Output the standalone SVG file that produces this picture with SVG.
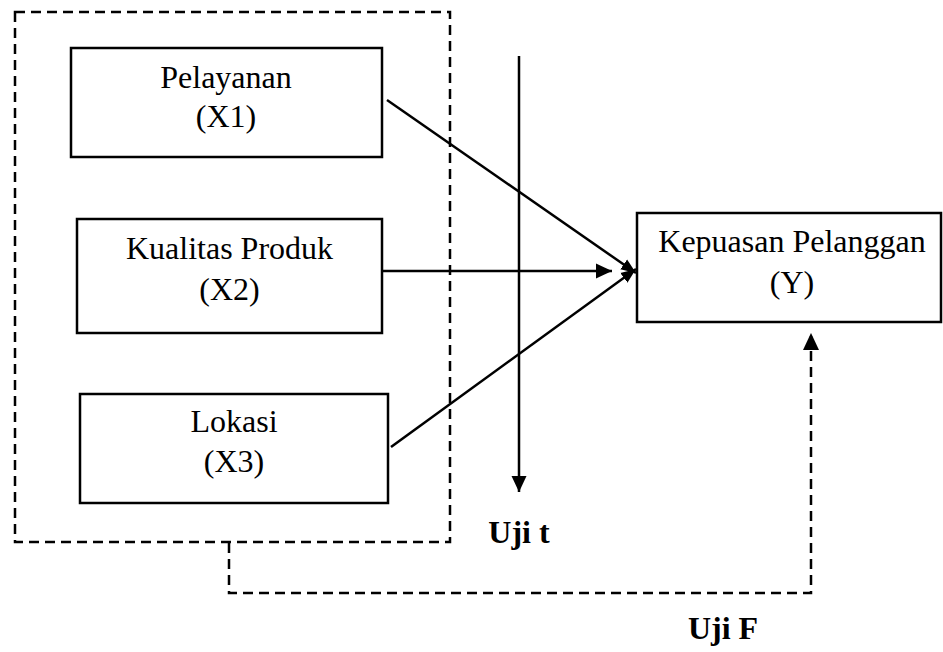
<svg xmlns="http://www.w3.org/2000/svg" width="943" height="652" viewBox="0 0 943 652">
<style>
.box{fill:#fff;stroke:#000;stroke-width:2.5}
.lbl{font-family:"Liberation Serif","Times New Roman",serif;font-size:32px;fill:#000;text-anchor:middle}
.bold{font-weight:bold}
.ln{stroke:#000;stroke-width:2.5;fill:none}
.dash{stroke:#000;stroke-width:2.5;fill:none;stroke-dasharray:10 6}
</style>
<defs>
<marker id="ah" markerUnits="userSpaceOnUse" markerWidth="18" markerHeight="18" viewBox="0 0 18 18" refX="16" refY="9" orient="auto">
<path d="M0,1.5 L16,9 L0,16.5 Z" fill="#000"/>
</marker>
<marker id="ahs" markerUnits="userSpaceOnUse" markerWidth="16" markerHeight="16" viewBox="0 0 16 16" refX="15" refY="8" orient="auto">
<path d="M0,2 L15,8 L0,14 Z" fill="#000"/>
</marker>
</defs>
<rect id="group-x" x="15" y="12" width="435" height="530" fill="none" stroke="#000" stroke-width="2.5" stroke-dasharray="10 6"/>
<g id="x1">
<rect class="box" x="71" y="48" width="311" height="109"/>
<text class="lbl" x="226" y="88">Pelayanan</text>
<text class="lbl" x="226" y="127">(X1)</text>
</g>
<g id="x2">
<rect class="box" x="77" y="219" width="305" height="114"/>
<text class="lbl" x="229.5" y="259">Kualitas Produk</text>
<text class="lbl" x="229.5" y="300">(X2)</text>
</g>
<g id="x3">
<rect class="box" x="80" y="394" width="308" height="109"/>
<text class="lbl" x="234" y="432">Lokasi</text>
<text class="lbl" x="234" y="472">(X3)</text>
</g>
<g id="y">
<rect class="box" x="637" y="213" width="304" height="109"/>
<text class="lbl" x="792" y="252">Kepuasan Pelanggan</text>
<text class="lbl" x="792" y="293">(Y)</text>
</g>
<g id="connectors">
<line class="ln" x1="387" y1="100" x2="636" y2="273" marker-end="url(#ahs)"/>
<line class="ln" x1="382" y1="271" x2="612" y2="271" marker-end="url(#ah)"/>
<line class="ln" x1="391" y1="447" x2="636" y2="269" marker-end="url(#ahs)"/>
<line class="ln" x1="519" y1="56" x2="519" y2="492" marker-end="url(#ah)"/>
<polyline class="dash" points="229,543 229,593 811,593 811,336"/>
<path d="M811,333 L803,350 L819,350 Z" fill="#000"/>
</g>
<g id="labels">
<text class="lbl bold" x="519" y="543">Uji t</text>
<text class="lbl bold" x="723" y="639">Uji F</text>
</g>
</svg>
